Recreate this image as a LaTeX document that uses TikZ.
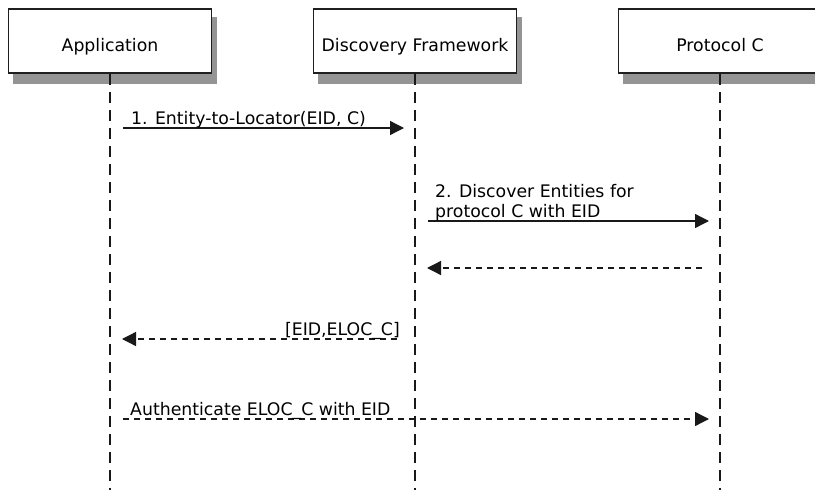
\documentclass[tikz,border=0pt]{standalone}
\usepackage{fontspec}
\setmainfont{DejaVu Sans}
\usetikzlibrary{arrows.meta,backgrounds}
\begin{document}
\begin{tikzpicture}[x=1pt,y=-1pt,
  every node/.style={font=\fontsize{17.3}{20}\selectfont, inner sep=0pt, text=black},
  actor/.style={draw=black!88, line width=1.5pt, fill=white,
    minimum width=203pt, minimum height=64pt},
  shadowbox/.style={fill=black!42},
  lifeline/.style={draw=black!90, line width=1.8pt, dash pattern=on 11pt off 7pt},
  msg/.style={draw=black!90, line width=1.3pt, -{Triangle[length=14pt,width=14pt]}},
  reply/.style={msg, dash pattern=on 6pt off 5pt},
  lbl/.style={anchor=base west, align=left}
]
\useasboundingbox (0,0) rectangle (815,490);
\clip (0,0) rectangle (815,490);

% participants
\node[actor] (app)   at (110,41) {};
\node[actor] (disc)  at (415,41) {};
\node[actor] (proto) at (720,41) {};
\node[anchor=base] (appname)   at (110,51) {Application};
\node[anchor=base] (discname)  at (415,51) {Discovery Framework};
\node[anchor=base] (protoname) at (720,51) {Protocol C};

% drop shadows behind the boxes
\begin{pgfonlayer}{background}
  \foreach \b in {app,disc,proto}
    \fill[shadowbox] ([shift={(5,9)}]\b.north west) rectangle ([shift={(4.5,10)}]\b.south east);
\end{pgfonlayer}

% lifelines
\coordinate (append)   at (110,492);
\coordinate (discend)  at (415,492);
\coordinate (protoend) at (720,492);
\draw[lifeline] (app.south)   -- (append);
\draw[lifeline] (disc.south)  -- (discend);
\draw[lifeline] (proto.south) -- (protoend);

% message end points
\coordinate (m1s) at (123,128);  \coordinate (m1e) at (404,128);
\coordinate (m2s) at (428,221);  \coordinate (m2e) at (709,221);
\coordinate (m3s) at (702,268);  \coordinate (m3e) at (427,268);
\coordinate (m4s) at (397,339);  \coordinate (m4e) at (122,339);
\coordinate (m5s) at (123,419);  \coordinate (m5e) at (709,419);

% messages
\draw[msg]   (m1s) -- (m1e);
\draw[msg]   (m2s) -- (m2e);
\draw[reply] (m3s) -- (m3e);
\draw[reply] (m4s) -- (m4e);
\draw[reply] (m5s) -- (m5e);

% message labels (a two-line label sits on its last baseline)
\node[lbl] (l1) at (131,124) {1. Entity-to-Locator(EID, C)};
\node[lbl] (l2) at (435,217) {2. Discover Entities for\\protocol C with EID};
\node[anchor=base east] (l4) at (400,335) {[EID,ELOC\_C]};
\node[lbl] (l5) at (130,415) {Authenticate ELOC\_C with EID};
\end{tikzpicture}
\end{document}
